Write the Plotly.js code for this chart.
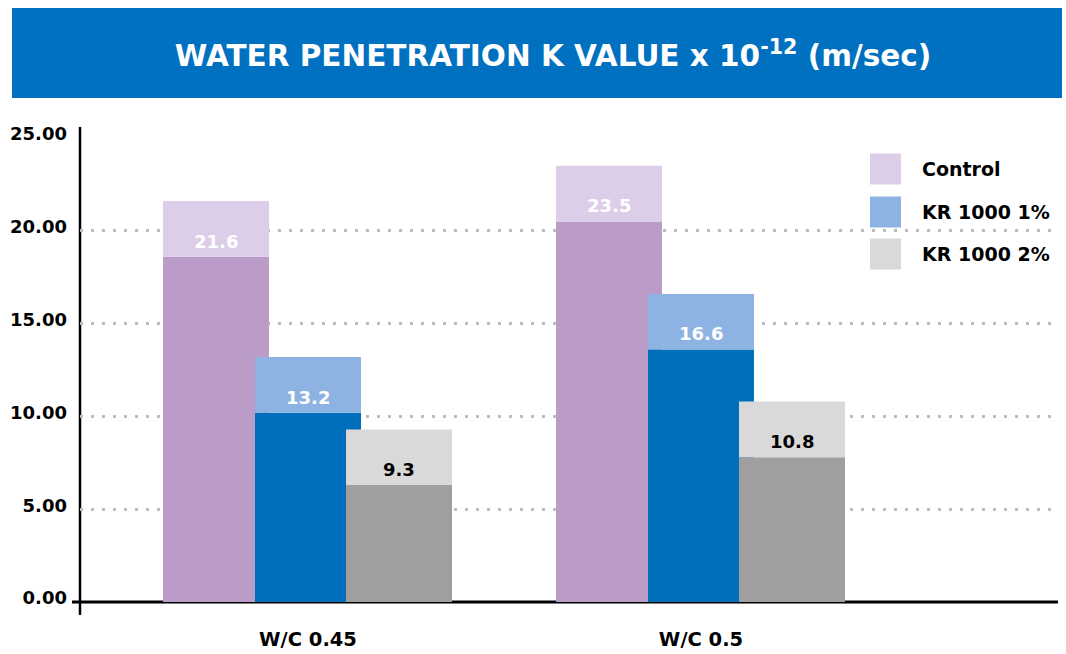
<!DOCTYPE html>
<html>
<head>
<meta charset="utf-8">
<script src="https://cdn.plot.ly/plotly-3.0.1.min.js"></script>
<style>
html,body{margin:0;padding:0;background:#fff;}
#chart{width:1066px;height:654px;}
</style>
</head>
<body>
<div id="chart"></div>
<script>
// ---- data ----
var categories = ["W/C 0.45", "W/C 0.5"];
var seriesNames = ["Control", "KR 1000 1%", "KR 1000 2%"];
var controlValues = [21.6, 23.5];
var kr1Values = [13.2, 16.6];
var kr2Values = [9.3, 10.8];
var yTickValues = [0, 5, 10, 15, 20, 25];
var titleText = "WATER PENETRATION K VALUE x 10<sup>-12</sup> (m/sec)";

// ---- style ----
var FONT = "DejaVu Sans, Open Sans, sans-serif";
var BAND = 3; // height of the light top band, in axis units
var darkColors = ["#bb9cc9", "#006fbb", "#9f9f9f"];
var lightColors = ["#dccde8", "#8db3e2", "#d9d9d9"];
var labelColors = ["#ffffff", "#ffffff", "#000000"];
var barWidth = 0.2697;
var barOffsets = [-0.369, -0.1349, 0.0967];
var labelShiftPx = [-92, 0, 91];

var L = 80, R = 8, T = 138, B = 52, W = 1066, H = 654;
var pw = W - L - R, ph = H - T - B;
function px(x){ return (x - L) / pw; }
function py(y){ return (H - B - y) / ph; }

var allValues = [controlValues, kr1Values, kr2Values];
var traces = [];
var annotations = [];
allValues.forEach(function(vals, i){
  traces.push({
    type: "bar", x: categories,
    y: vals.map(function(v){ return v - BAND; }),
    marker: {color: darkColors[i], line: {width: 0}},
    width: barWidth, offset: barOffsets[i],
    showlegend: false, hoverinfo: "skip"
  });
  traces.push({
    type: "bar", x: categories,
    base: vals.map(function(v){ return v - BAND; }),
    y: vals.map(function(){ return BAND; }),
    marker: {color: lightColors[i], line: {width: 0}},
    width: barWidth, offset: barOffsets[i],
    name: seriesNames[i], showlegend: false, hoverinfo: "skip"
  });
  vals.forEach(function(v, j){
    annotations.push({
      x: categories[j], y: v, xref: "x", yref: "y",
      xshift: labelShiftPx[i], yshift: -40,
      yanchor: "middle", xanchor: "center",
      text: v.toFixed(1), showarrow: false,
      font: {family: FONT, size: 18, weight: 700, color: labelColors[i]}
    });
  });
});

// legend (manual, large squares)
var shapes = [];
var legendRows = [169, 212, 254];
seriesNames.forEach(function(n, i){
  var cy = legendRows[i];
  shapes.push({type: "rect", xref: "paper", yref: "paper",
    x0: px(870), x1: px(901), y0: py(cy + 15.5), y1: py(cy - 15.5),
    fillcolor: lightColors[i], line: {width: 0}, layer: "above"});
  annotations.push({xref: "paper", yref: "paper", x: px(920), y: py(cy),
    xanchor: "left", yanchor: "middle", text: n, showarrow: false,
    font: {family: FONT, size: 19, weight: 700, color: "#000"}});
});

// title banner
shapes.push({type: "rect", xref: "paper", yref: "paper",
  x0: px(12), x1: px(1062), y0: py(98), y1: py(8),
  fillcolor: "#0070c0", line: {width: 0}, layer: "below"});
// y axis line
shapes.push({type: "line", xref: "paper", yref: "paper",
  x0: 0, x1: 0, y0: py(615), y1: py(127),
  line: {color: "#000", width: 2.5}, layer: "between"});
// x baseline
shapes.push({type: "line", xref: "paper", yref: "paper",
  x0: px(72), x1: 1, y0: 0, y1: 0,
  line: {color: "#000", width: 3}, layer: "between"});

var layout = {
  width: W, height: H,
  margin: {l: L, r: R, t: T, b: B, pad: 0},
  paper_bgcolor: "#fff", plot_bgcolor: "#fff",
  barmode: "overlay",
  showlegend: false,
  hovermode: false,
  title: {
    text: titleText, xref: "container", yref: "container",
    x: 553 / W, y: 1 - 56 / H, xanchor: "center", yanchor: "middle",
    font: {family: FONT, size: 29.5, weight: 700, color: "#fff"}
  },
  xaxis: {
    type: "category", range: [-0.5802, 1.9084],
    showgrid: false, zeroline: false, showline: false,
    ticks: "", ticklabelstandoff: 23,
    tickfont: {family: FONT, size: 19.5, weight: 700, color: "#000"},
    fixedrange: true
  },
  yaxis: {
    range: [0, 25], tickvals: yTickValues, tickformat: ".2f",
    showgrid: true, gridcolor: "#bdbdbd", gridwidth: 3, griddash: "3px,8px",
    zeroline: false, showline: false, ticks: "",
    ticklabelstandoff: 12, ticklabelshift: -4,
    tickfont: {family: FONT, size: 18, weight: 700, color: "#000"},
    fixedrange: true
  },
  shapes: shapes,
  annotations: annotations
};

Plotly.newPlot("chart", traces, layout, {displayModeBar: false, staticPlot: true});
</script>
</body>
</html>
